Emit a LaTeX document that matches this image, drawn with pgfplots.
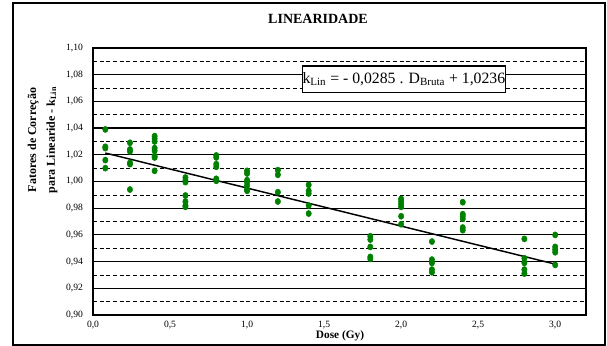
\documentclass[border=0pt]{standalone}
\usepackage{pgfplots}
\pgfplotsset{compat=1.18}
\usepackage{fontspec}
\setmainfont{Liberation Serif}
\definecolor{ptgreen}{RGB}{0,128,0}
\begin{document}
\begin{tikzpicture}
\useasboundingbox (0,0) rectangle (455.25pt,259.5pt);
\draw[line width=1.5pt] (9.75pt,0.75pt) rectangle (453.75pt,257.25pt);
\node[font=\bfseries\fontsize{10.5}{12}\selectfont] at (238.5pt,245.25pt) {LINEARIDADE};
\node[font=\bfseries\fontsize{9}{14}\selectfont, rotate=90, align=center] at (31.9pt,154.5pt) {Fatores de Correção\\para Linearide - k\textsubscript{Lin}};
\node[font=\bfseries\fontsize{8.5}{10}\selectfont] at (255pt,7.5pt) {Dose (Gy)};
\begin{axis}[
  at={(69.75pt,23.25pt)}, anchor=south west,
  scale only axis, width=369.75pt, height=200.25pt,
  xmin=0, xmax=3.2, ymin=0.9, ymax=1.1,
  xtick={0,0.5,...,3.0},
  ytick={0.90,0.92,...,1.101},
  minor ytick={0.91,0.93,...,1.095},
  ymajorgrids, yminorgrids,
  major grid style={black, line width=0.9pt},
  minor grid style={black, densely dashed, line width=0.5pt},
  major tick length=0pt, minor tick length=0pt,
  axis line style={line width=1.8pt},
  tick label style={font=\fontsize{7.2}{8}\selectfont},
  /pgf/number format/assume math mode=true,
  x tick label style={/pgf/number format/use comma, /pgf/number format/fixed, /pgf/number format/fixed zerofill, /pgf/number format/precision=1, yshift=-1pt},
  y tick label style={/pgf/number format/use comma, /pgf/number format/fixed, /pgf/number format/fixed zerofill, /pgf/number format/precision=2, xshift=-4pt},
  clip=false,
]
\addplot[only marks, mark=*, mark size=2pt, ptgreen, mark options={draw=ptgreen, fill=ptgreen, yscale=1.15}] coordinates {
(0.08,1.039) (0.08,1.026) (0.08,1.025) (0.08,1.016) (0.08,1.010)
(0.24,1.029) (0.24,1.024) (0.24,1.0225) (0.24,1.014) (0.24,1.013) (0.24,0.994)
(0.40,1.034) (0.40,1.032) (0.40,1.030) (0.40,1.025) (0.40,1.023) (0.40,1.019) (0.40,1.018) (0.40,1.008)
(0.60,1.003) (0.60,1.001) (0.60,0.9995) (0.60,0.9895) (0.60,0.985) (0.60,0.982) (0.60,0.981)
(0.80,1.0195) (0.80,1.018) (0.80,1.013) (0.80,1.011) (0.80,1.002) (0.80,1.0005)
(1.00,1.008) (1.00,1.006) (1.00,1.001) (1.00,0.9995) (1.00,0.997) (1.00,0.994) (1.00,0.993)
(1.20,1.0085) (1.20,1.005) (1.20,0.992) (1.20,0.985)
(1.40,0.9975) (1.40,0.993) (1.40,0.991) (1.40,0.982) (1.40,0.976)
(1.80,0.959) (1.80,0.9565) (1.80,0.951) (1.80,0.9435) (1.80,0.942)
(2.00,0.987) (2.00,0.985) (2.00,0.983) (2.00,0.981) (2.00,0.974) (2.00,0.968)
(2.20,0.955) (2.20,0.9415) (2.20,0.939) (2.20,0.934) (2.20,0.932)
(2.40,0.9845) (2.40,0.9755) (2.40,0.974) (2.40,0.972) (2.40,0.9655) (2.40,0.9635)
(2.80,0.957) (2.80,0.9425) (2.80,0.939) (2.80,0.934) (2.80,0.931)
(3.00,0.960) (3.00,0.951) (3.00,0.949) (3.00,0.947) (3.00,0.9375)
};
\addplot[black, line width=1.1pt] coordinates {(0.08,1.02132) (3.0,0.9381)};
\node[draw=black, line width=0.9pt, fill=white, inner sep=0pt, minimum width=145pt, minimum height=20pt, font=\fontsize{11.8}{13}\selectfont] at (axis cs:2.018,1.0765) {k\textsubscript{Lin} = - 0,0285 . D\textsubscript{Bruta} + 1,0236};
\end{axis}
\end{tikzpicture}
\end{document}
